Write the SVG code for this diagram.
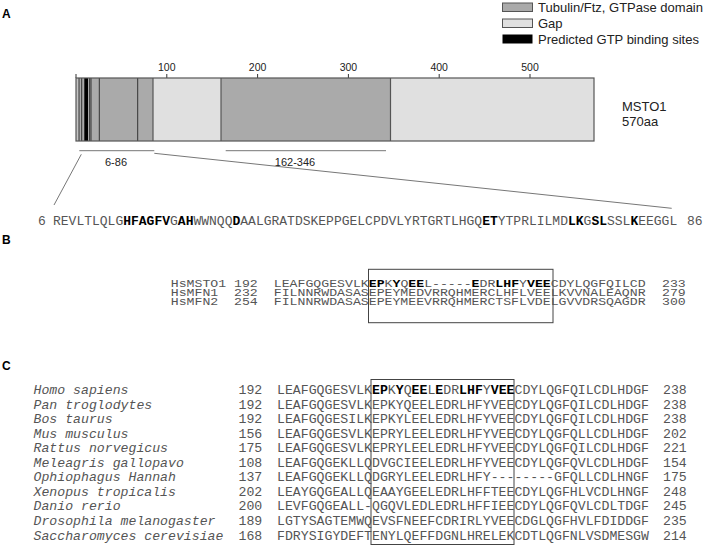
<svg xmlns="http://www.w3.org/2000/svg" width="709" height="547" viewBox="0 0 709 547">
<style>
.sans{font-family:"Liberation Sans",Arial,sans-serif;fill:#222}
.lab{font-family:"Liberation Sans",Arial,sans-serif;font-weight:bold;font-size:12px;fill:#000}
.tick{font-family:"Liberation Sans",Arial,sans-serif;font-size:10.5px;fill:#222;text-anchor:middle}
.mono{font-family:"Liberation Mono","Courier New",monospace;fill:#555}
.m13{font-size:13px}
.m132{font-size:13.2px}
.it{font-style:italic}
.b{font-weight:bold;fill:#000}
.tub{fill:#aaaaaa}
.gap{fill:#e0e0e0}
.ln{stroke:#333;stroke-width:1}
.edge{stroke:#555;stroke-width:1.2;fill:none}
.conn{stroke:#777;stroke-width:1;fill:none}
.box{stroke:#444;stroke-width:1;fill:none}
</style>

<text class="lab" x="2" y="18.3">A</text>
<text class="lab" x="2" y="244">B</text>
<text class="lab" x="2" y="370">C</text>

<g id="legend">
  <rect x="502.5" y="3" width="30" height="8.5" class="tub" stroke="#555" stroke-width="1"/>
  <rect x="502.5" y="19" width="30" height="8.5" class="gap" stroke="#555" stroke-width="1"/>
  <rect x="502.5" y="34.5" width="30" height="9" fill="#000"/>
  <text class="sans" font-size="13" x="538" y="12">Tubulin/Ftz, GTPase domain</text>
  <text class="sans" font-size="13" x="538" y="28">Gap</text>
  <text class="sans" font-size="13" x="538" y="43.5">Predicted GTP binding sites</text>
</g>

<g id="axis">
  <line x1="76" y1="74" x2="76" y2="78" class="ln"/>
  <line x1="166.8" y1="74" x2="166.8" y2="78" class="ln"/>
  <line x1="257.6" y1="74" x2="257.6" y2="78" class="ln"/>
  <line x1="348.4" y1="74" x2="348.4" y2="78" class="ln"/>
  <line x1="439.2" y1="74" x2="439.2" y2="78" class="ln"/>
  <line x1="530" y1="74" x2="530" y2="78" class="ln"/>
  <text class="tick" x="166.8" y="71">100</text>
  <text class="tick" x="257.6" y="71">200</text>
  <text class="tick" x="348.4" y="71">300</text>
  <text class="tick" x="439.2" y="71">400</text>
  <text class="tick" x="530" y="71">500</text>
</g>

<g id="bar">
  <rect x="76" y="78" width="77" height="63" class="tub"/>
  <rect x="76" y="78" width="3" height="63" fill="#c4c4c4"/>
  <rect x="153" y="78" width="68" height="63" class="gap"/>
  <rect x="221" y="78" width="169.5" height="63" class="tub"/>
  <rect x="390.5" y="78" width="203.5" height="63" class="gap"/>
  <rect x="84.3" y="78" width="3.7" height="63" fill="#000"/>
  <line x1="79" y1="78" x2="79" y2="141" class="ln"/>
  <line x1="81.7" y1="78" x2="81.7" y2="141" class="ln"/>
  <line x1="89.7" y1="78" x2="89.7" y2="141" class="ln"/>
  <line x1="91" y1="78" x2="91" y2="141" class="ln"/>
  <line x1="99.3" y1="78" x2="99.3" y2="141" class="ln"/>
  <line x1="137.7" y1="78" x2="137.7" y2="141" class="ln"/>
  <line x1="153" y1="78" x2="153" y2="141" class="edge"/>
  <line x1="221" y1="78" x2="221" y2="141" class="edge"/>
  <line x1="390.5" y1="78" x2="390.5" y2="141" class="edge"/>
  <rect x="76" y="78" width="518" height="63" class="edge"/>
</g>

<g id="protein-label">
  <text class="sans" font-size="13" x="622" y="111">MSTO1</text>
  <text class="sans" font-size="13" x="622" y="126">570aa</text>
</g>

<g id="connectors">
  <line x1="79.3" y1="150.7" x2="154.3" y2="150.7" class="conn"/>
  <line x1="225.7" y1="150.7" x2="386" y2="150.7" class="conn"/>
  <line x1="81.3" y1="154.3" x2="54" y2="205" class="conn"/>
  <line x1="154.3" y1="153.3" x2="671.7" y2="208.3" class="conn"/>
</g>

<g id="ranges">
  <text class="sans" font-size="11" x="116" y="165.5" text-anchor="middle">6-86</text>
  <text class="sans" font-size="11" x="295" y="165.5" text-anchor="middle">162-346</text>
</g>

<g id="seqA">
  <text class="mono m13" x="38" y="224.5">6</text>
  <text class="mono m13" x="53" y="224.5">REVLTLQLG<tspan class="b">HFAGFV</tspan>G<tspan class="b">AH</tspan>WWNQQ<tspan class="b">D</tspan>AALGRATDSKEPPGELCPDVLYRTGRTLHGQ<tspan class="b">ET</tspan>YTPRLILMD<tspan class="b">LK</tspan>G<tspan class="b">SL</tspan>SSL<tspan class="b">K</tspan>EEGGL</text>
  <text class="mono m13" x="687" y="224.5">86</text>
</g>

<g id="alignB">
  <rect x="368.5" y="269.3" width="184.5" height="53.4" class="box"/>
  <g class="mono m132" transform="translate(0 296.2) scale(1 0.8) translate(0 -296.2)">
    <text x="170.8" y="284.6">HsMSTO1</text>
    <text x="234" y="284.6">192</text>
    <text x="273.8" y="284.6">LEAFGQGESVLK<tspan class="b">EP</tspan>K<tspan class="b">Y</tspan>Q<tspan class="b">EE</tspan>L-----<tspan class="b">E</tspan>DR<tspan class="b">LHF</tspan>Y<tspan class="b">VEE</tspan>CDYLQGFQILCD</text>
    <text x="662" y="284.6">233</text>
    <text x="170.8" y="296.2">HsMFN1</text>
    <text x="234" y="296.2">232</text>
    <text x="273.8" y="296.2">FILNNRWDASASEPEYMEDVRRQHMERCLHFLVEELKVVNALEAQNR</text>
    <text x="662" y="296.2">279</text>
    <text x="170.8" y="307.8">HsMFN2</text>
    <text x="234" y="307.8">254</text>
    <text x="273.8" y="307.8">FILNNRWDASASEPEYMEEVRRQHMERCTSFLVDELGVVDRSQAGDR</text>
    <text x="662" y="307.8">300</text>
  </g>
</g>

<g id="alignC">
  <rect x="371" y="379.5" width="143" height="165" class="box"/>
  <g class="mono m132">
    <text class="it" x="33.5" y="394.2">Homo sapiens</text>
    <text x="238.5" y="394.2">192</text>
    <text x="277" y="394.2">LEAFGQGESVLK<tspan class="b">EP</tspan>K<tspan class="b">Y</tspan>Q<tspan class="b">EE</tspan>L<tspan class="b">E</tspan>DR<tspan class="b">LHF</tspan>Y<tspan class="b">VEE</tspan>CDYLQGFQILCDLHDGF</text>
    <text x="663" y="394.2">238</text>

    <text class="it" x="33.5" y="408.7">Pan troglodytes</text>
    <text x="238.5" y="408.7">192</text>
    <text x="277" y="408.7">LEAFGQGESVLKEPKYQEELEDRLHFYVEECDYLQGFQILCDLHDGF</text>
    <text x="663" y="408.7">238</text>

    <text class="it" x="33.5" y="423.3">Bos taurus</text>
    <text x="238.5" y="423.3">192</text>
    <text x="277" y="423.3">LEAFGQGESILKEPKYLEELEDRLHFYVEECDYLQGFQILCDLHDGF</text>
    <text x="663" y="423.3">238</text>

    <text class="it" x="33.5" y="437.8">Mus musculus</text>
    <text x="238.5" y="437.8">156</text>
    <text x="277" y="437.8">LEAFGQGESVLKEPRYLEELEDRLHFYVEECDYLQGFQLLCDLHDGF</text>
    <text x="663" y="437.8">202</text>

    <text class="it" x="33.5" y="452.3">Rattus norvegicus</text>
    <text x="238.5" y="452.3">175</text>
    <text x="277" y="452.3">LEAFGQGESVLKEPRYLEELEDRLHFYVEECDYLQGFQILCDLHDGF</text>
    <text x="663" y="452.3">221</text>

    <text class="it" x="33.5" y="466.9">Meleagris gallopavo</text>
    <text x="238.5" y="466.9">108</text>
    <text x="277" y="466.9">LEAFGQGEKLLQDVGCIEELEDRLHFYVEECDYLQGFQVLCDLHDGF</text>
    <text x="663" y="466.9">154</text>

    <text class="it" x="33.5" y="481.4">Ophiophagus Hannah</text>
    <text x="238.5" y="481.4">137</text>
    <text x="277" y="481.4">LEAFGQGEKLLQDGRYLEELEDRLHFY--------GFQLLCDLHNGF</text>
    <text x="663" y="481.4">175</text>

    <text class="it" x="33.5" y="495.9">Xenopus tropicalis</text>
    <text x="238.5" y="495.9">202</text>
    <text x="277" y="495.9">LEAYGQGEALLQEAAYGEELEDRLHFFTEECDYLQGFHLVCDLHNGF</text>
    <text x="663" y="495.9">248</text>

    <text class="it" x="33.5" y="510.4">Danio rerio</text>
    <text x="238.5" y="510.4">200</text>
    <text x="277" y="510.4">LEVFGQGEALL-QGQVLEDLEDRLHFFIEECDYLQGFQVLCDLTDGF</text>
    <text x="663" y="510.4">245</text>

    <text class="it" x="33.5" y="525">Drosophila melanogaster</text>
    <text x="238.5" y="525">189</text>
    <text x="277" y="525">LGTYSAGTEMWQEVSFNEEFCDRIRLYVEECDGLQGFHVLFDIDDGF</text>
    <text x="663" y="525">235</text>

    <text class="it" x="33.5" y="539.5">Saccharomyces cerevisiae</text>
    <text x="238.5" y="539.5">168</text>
    <text x="277" y="539.5">FDRYSIGYDEFTENYLQEFFDGNLHRELEKCDTLQGFNLVSDMESGW</text>
    <text x="663" y="539.5">214</text>
  </g>
</g>
</svg>
